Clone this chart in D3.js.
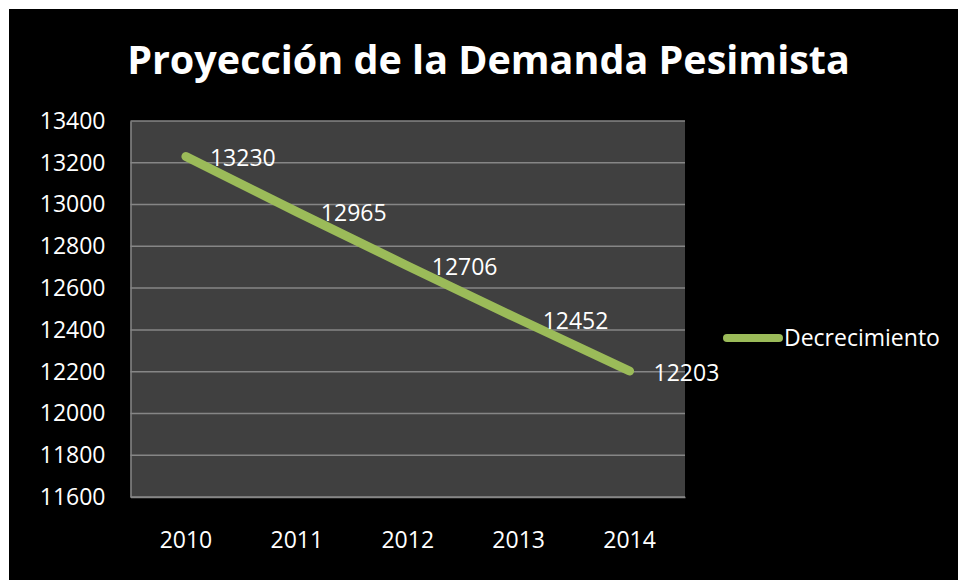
<!DOCTYPE html>
<html><head><meta charset="utf-8">
<script src="https://cdn.jsdelivr.net/npm/d3@7"></script>
<style>html,body{margin:0;padding:0;background:#fff;}svg{display:block;}</style>
</head><body>
<script>
const categories = ["2010","2011","2012","2013","2014"];
const values = [13230,12965,12706,12452,12203];
const yTicks = [11600,11800,12000,12200,12400,12600,12800,13000,13200,13400];
const seriesName = "Decrecimiento";
const title = "Proyección de la Demanda Pesimista";

const W = 958, H = 580;
const svg = d3.select("body").append("svg").attr("width", W).attr("height", H);
svg.append("rect").attr("x", 9).attr("y", 9).attr("width", W - 9).attr("height", H - 9).attr("fill", "#000");

const plot = {left: 130.5, right: 685, top: 121, bottom: 497};
const x = d3.scaleBand().domain(categories).range([plot.left, plot.right]);
const y = d3.scaleLinear().domain([11600, 13400]).range([plot.bottom, plot.top]);
const font = "'Open Sans', 'Liberation Sans', sans-serif";

svg.append("rect").attr("x", plot.left).attr("y", plot.top)
  .attr("width", plot.right - plot.left).attr("height", plot.bottom - plot.top)
  .attr("fill", "#404040");

// gridlines
svg.append("g").selectAll("line").data(yTicks).join("line")
  .attr("x1", plot.left).attr("x2", plot.right)
  .attr("y1", d => y(d)).attr("y2", d => y(d))
  .attr("stroke", "#868686").attr("stroke-width", 1.5);

// y axis
const yAxis = svg.append("g").attr("transform", `translate(${plot.left},0)`)
  .call(d3.axisLeft(y).tickValues(yTicks).tickSize(0).tickPadding(25).tickFormat(d3.format("d")));
yAxis.select(".domain").attr("stroke", "#868686").attr("stroke-width", 1.5);
yAxis.selectAll("text").attr("fill", "#fff").attr("font-family", font).attr("font-size", 23);

// x axis
const xAxis = svg.append("g").attr("transform", `translate(0,${plot.bottom})`)
  .call(d3.axisBottom(x).tickSize(0).tickPadding(0));
xAxis.select(".domain").attr("stroke", "#868686").attr("stroke-width", 1.5);
xAxis.selectAll("text").attr("fill", "#fff").attr("font-family", font).attr("font-size", 23)
  .attr("dy", null).attr("y", 51);

// line
const line = d3.line().x((d, i) => x(categories[i]) + x.bandwidth() / 2).y(d => y(d));
svg.append("path").datum(values).attr("d", line)
  .attr("fill", "none").attr("stroke", "#9BBB59").attr("stroke-width", 9)
  .attr("stroke-linecap", "round").attr("stroke-linejoin", "round");

// data labels
svg.append("g").selectAll("text").data(values).join("text")
  .attr("x", (d, i) => x(categories[i]) + x.bandwidth() / 2 + 24)
  .attr("y", d => y(d) + 9.5)
  .attr("fill", "#fff").attr("font-family", font).attr("font-size", 23)
  .text(d => d);

// title
svg.append("text").attr("x", 488.5).attr("y", 74).attr("text-anchor", "middle")
  .attr("fill", "#fff").attr("font-family", font).attr("font-weight", "bold").attr("font-size", 39.5)
  .text(title);

// legend
const lg = svg.append("g");
lg.append("line").attr("x1", 727).attr("x2", 779).attr("y1", 338).attr("y2", 338)
  .attr("stroke", "#9BBB59").attr("stroke-width", 8).attr("stroke-linecap", "round");
lg.append("text").attr("x", 784).attr("y", 346).attr("fill", "#fff")
  .attr("font-family", font).attr("font-size", 23).text(seriesName);
</script>
</body></html>
